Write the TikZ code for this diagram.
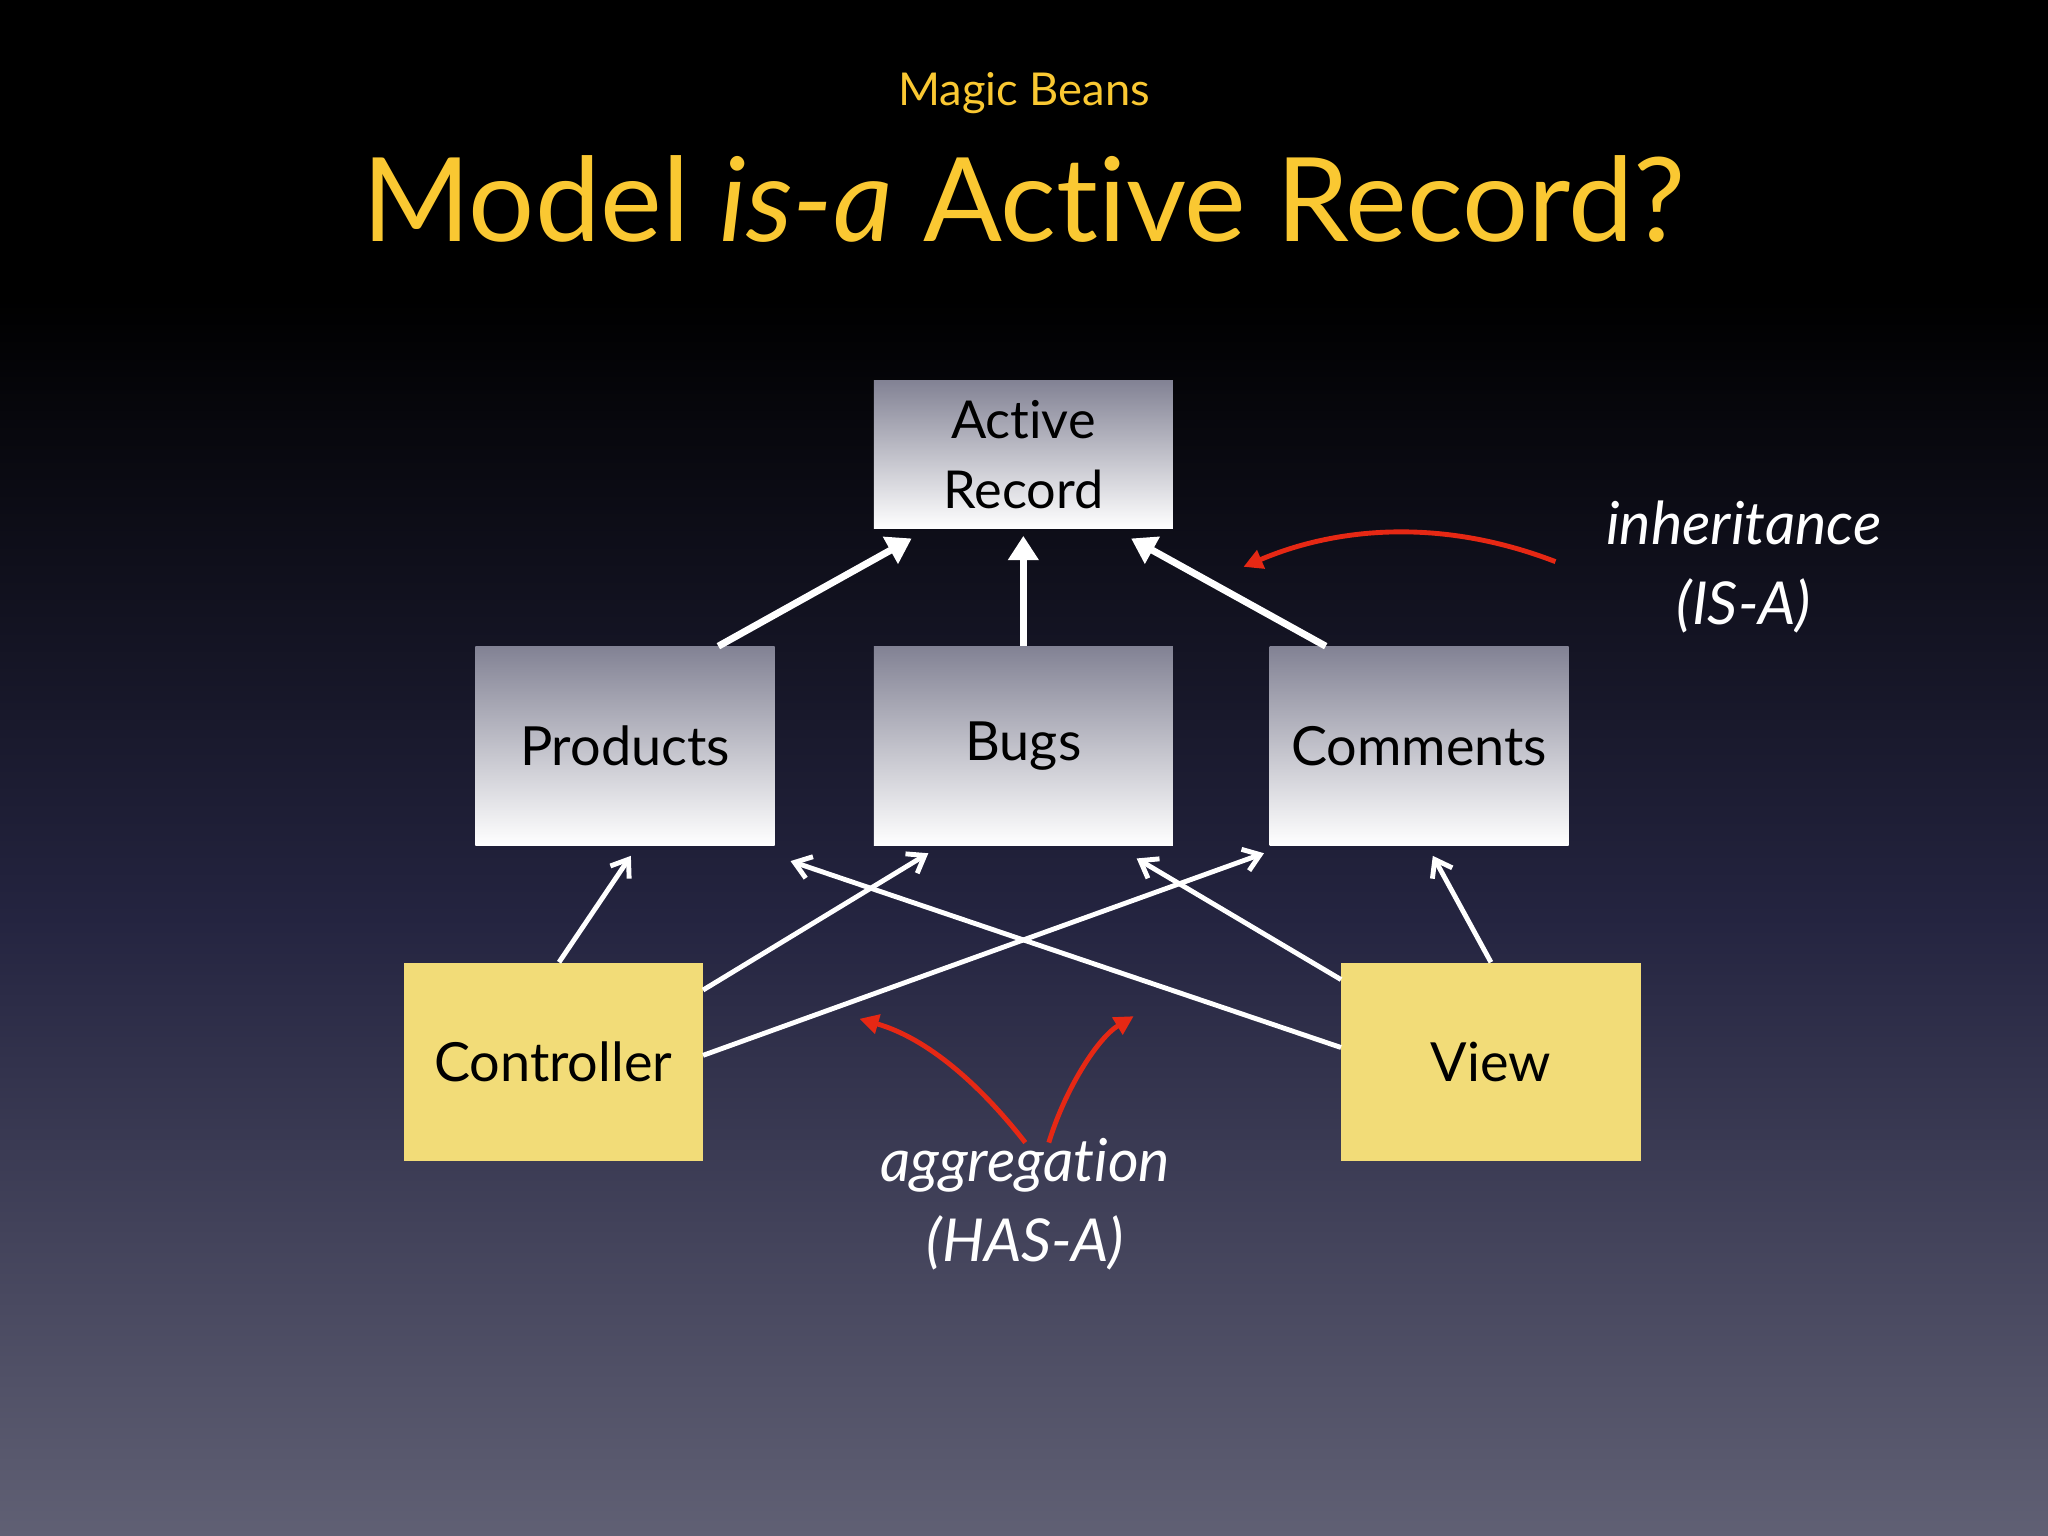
\documentclass[tikz,border=0pt]{standalone}
\usepackage{fontspec}
\setmainfont{Lato}[Ligatures={NoCommon,NoRequired,NoContextual}]
\usetikzlibrary{arrows.meta,calc}
\definecolor{titleyellow}{RGB}{250,200,50}
\definecolor{noteyellow}{RGB}{242,220,120}
\definecolor{boxgray}{RGB}{130,130,148}
\definecolor{bgmid}{RGB}{36,36,64}
\definecolor{bgbottom}{RGB}{96,96,116}
\definecolor{arrowred}{RGB}{230,40,20}
\tikzset{
  graybox/.style={top color=boxgray, bottom color=white, minimum width=171.75pt, minimum height=114pt, inner sep=0pt, align=center, font=\fontsize{31}{36}\selectfont},
  yellowbox/.style={fill=noteyellow, minimum width=171.75pt, minimum height=114pt, inner sep=0pt, font=\fontsize{31}{36}\selectfont},
  isa/.style={white, line width=4pt, -{Triangle[width=17pt,length=14pt]}},
  hasa/.style={white, line width=2.8pt, -{Straight Barb[width=13pt,length=9pt]}},
  note/.style={arrowred, line width=2.8pt, -{Triangle[width=11pt,length=11pt]}},
  label/.style={white, align=center, font=\itshape\fontsize{34}{46}\selectfont}
}
\begin{document}
\begin{tikzpicture}[x=0.75pt,y=0.75pt,yscale=-1,xscale=1]
% background
\fill[black] (0,0) rectangle (1568,230);
\shade[top color=black, bottom color=bgbottom, middle color=bgmid] (0,229) rectangle (1568,1176);
\useasboundingbox (0,0) rectangle (1568,1176);

% titles
\node[titleyellow, font=\fontsize{26}{30}\selectfont] (sub) at (784,71) {Magic Beans};
\node[titleyellow, font=\fontsize{67}{80}\selectfont] (title) at (784,152) {Model \textit{is-a} Active Record?};

% boxes
\node[graybox, minimum height=85.5pt, font=\fontsize{30}{40}\selectfont] (ar) at (783.5,348) {Active\\Record};
\node[graybox] (prod) at (478.5,571) {Products};
\node[graybox] (bugs) at (783.5,571) {Bugs};
\node[graybox] (comm) at (1086.5,571) {Comments};
\node[yellowbox] (ctrl) at (423.5,813) {Controller};
\node[yellowbox] (view) at (1141.5,813) {View};

% inheritance
\draw[isa] ($(prod.north)+(71.5,0)$) -- ($(ar.south)+(-85.5,7)$);
\draw[isa] (bugs.north) -- ($(ar.south)+(0,5)$);
\draw[isa] ($(comm.north)+(-71.5,0)$) -- ($(ar.south)+(82.5,7)$);

% aggregation
\draw[hasa] ($(ctrl.north)+(4.5,0)$) -- ($(prod.south)+(4.5,8)$);
\draw[hasa] ($(ctrl.east)+(0,-55)$) -- ($(bugs.south west)+(42,6)$);
\draw[hasa] ($(ctrl.east)+(0,-5)$) -- ($(comm.south west)+(-4,6)$);
\draw[hasa] ($(view.west)+(0,-11)$) -- ($(prod.south east)+(12,12)$);
\draw[hasa] ($(view.west)+(0,-63)$) -- ($(bugs.south east)+(-28,10)$);
\draw[hasa] (view.north) -- ($(comm.south)+(10.5,8)$);

% labels
\node[label] (inh) at (1335,434) {inheritance\\(IS-A)};
\node[label] (agg) at (785,922) {aggregation\\(HAS-A)};
\coordinate (inhend) at (952,434);
\coordinate (aggl) at (658,780);
\coordinate (aggr) at (868,778);
\draw[note] ($(inh.west)+(-34,-4)$) .. controls (1100,395) and (1020,405) .. (inhend);
\draw[note] ($(agg.north)+(0,8)$) .. controls (750,830) and (710,795) .. (aggl);
\draw[note] ($(agg.north)+(18,8)$) .. controls (815,835) and (840,795) .. (aggr);
\end{tikzpicture}
\end{document}
